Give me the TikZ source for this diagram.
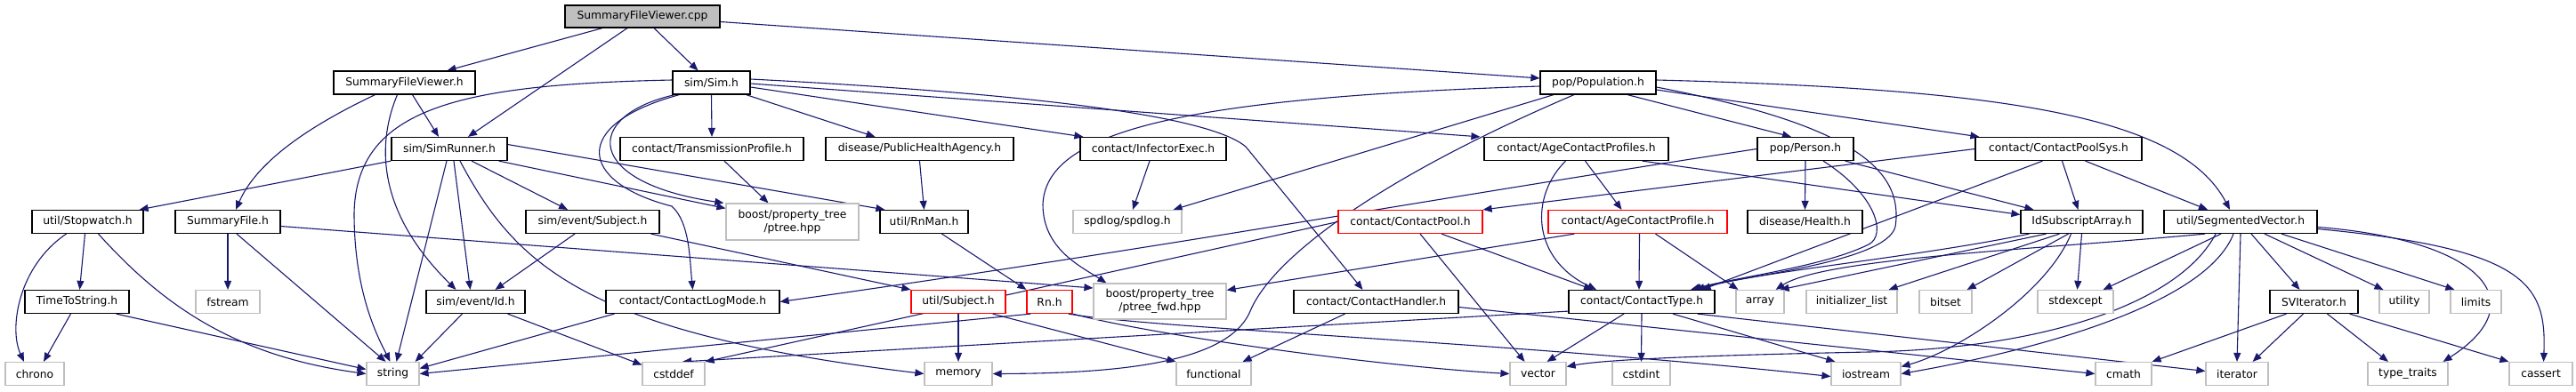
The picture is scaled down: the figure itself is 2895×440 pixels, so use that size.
\documentclass[tikz,border=0pt]{standalone}
\usepackage{fontspec}
\setmainfont{DejaVu Sans}
\usetikzlibrary{arrows.meta,calc}
\pgfdeclarelayer{edgelayer}
\pgfsetlayers{edgelayer,main}
\definecolor{edgeblue}{HTML}{191970}
\definecolor{boxgray}{HTML}{BFBFBF}
\definecolor{boxred}{HTML}{FF0000}
\tikzset{
  base/.style={fill=white, line width=1.2pt, inner sep=0pt, minimum height=26, align=center,
               font=\fontsize{12.3}{14.5}\selectfont},
  nb/.style={base, draw=black},
  ng/.style={base, draw=boxgray},
  nr/.style={base, draw=boxred},
  e/.style={draw=edgeblue, line width=1.1pt, -{Triangle[length=10pt,width=8pt]}}
}
\begin{document}
\begin{tikzpicture}[x=1pt,y=-1pt]
% ---------- nodes ----------
\node[nb,fill=boxgray,minimum width=174,minimum height=25] (cpp) at (722,18.5) {SummaryFileViewer.cpp};
\node[nb,minimum width=159] (sfvh) at (454.5,93) {SummaryFileViewer.h};
\node[nb,minimum width=87] (sim) at (799.5,93) {sim/Sim.h};
\node[nb,minimum width=130] (pop) at (1796,93) {pop/Population.h};
\node[nb,minimum width=130] (simrunner) at (505,167.5) {sim/SimRunner.h};
\node[nb,minimum width=206] (trans) at (800,167.5) {contact/TransmissionProfile.h};
\node[nb,minimum width=211] (pha) at (1033.5,167.5) {disease/PublicHealthAgency.h};
\node[nb,minimum width=164] (infector) at (1296,167.5) {contact/InfectorExec.h};
\node[nb,minimum width=207] (acps) at (1771.5,167.5) {contact/AgeContactProfiles.h};
\node[nb,minimum width=108] (person) at (2029,167.5) {pop/Person.h};
\node[nb,minimum width=187] (cps) at (2313.5,167.5) {contact/ContactPoolSys.h};
% row 4
\node[nb,minimum width=125] (stopwatch) at (98.5,249.5) {util/Stopwatch.h};
\node[nb,minimum width=118] (summaryfile) at (256,249.5) {SummaryFile.h};
\node[nb,minimum width=150] (evsubject) at (666,249.5) {sim/event/Subject.h};
\node[ng,minimum width=149,minimum height=41] (ptree) at (890.5,249.5) {boost/property\_tree\\/ptree.hpp};
\node[nb,minimum width=99] (rnman) at (1038.5,249.5) {util/RnMan.h};
\node[ng,minimum width=122] (spdlog) at (1267,249.5) {spdlog/spdlog.h};
\node[nr,minimum width=162] (contactpool) at (1585,249.5) {contact/ContactPool.h};
\node[nr,minimum width=201] (acp) at (1840.5,249.5) {contact/AgeContactProfile.h};
\node[nb,minimum width=129] (health) at (2028.5,249.5) {disease/Health.h};
\node[nb,minimum width=137] (idsub) at (2339.5,249.5) {IdSubscriptArray.h};
\node[nb,minimum width=172] (segvec) at (2518,249.5) {util/SegmentedVector.h};
% row 5
\node[nb,minimum width=117] (tts) at (86.5,339.5) {TimeToString.h};
\node[ng,minimum width=72] (fstream) at (256,339.5) {fstream};
\node[nb,minimum width=111] (id) at (534.5,339.5) {sim/event/Id.h};
\node[nb,minimum width=195] (logmode) at (778.5,339.5) {contact/ContactLogMode.h};
\node[nr,minimum width=106] (utilsubject) at (1077,339.5) {util/Subject.h};
\node[nr,minimum width=51] (rn) at (1179.5,339.5) {Rn.h};
\node[ng,minimum width=149,minimum height=40] (ptreefwd) at (1303.5,339) {boost/property\_tree\\/ptree\_fwd.hpp};
\node[nb,minimum width=185] (handler) at (1546.5,339.5) {contact/ContactHandler.h};
\node[nb,minimum width=164] (ctype) at (1845,339.5) {contact/ContactType.h};
\node[ng,minimum width=54] (array) at (1978,339.5) {array};
\node[ng,minimum width=102] (initlist) at (2081,339.5) {initializer\_list};
\node[ng,minimum width=59] (bitset) at (2186.5,339.5) {bitset};
\node[ng,minimum width=85] (stdexcept) at (2332.5,339.5) {stdexcept};
\node[nb,minimum width=99] (svit) at (2600.5,339.5) {SVIterator.h};
\node[ng,minimum width=56] (utility) at (2702,339.5) {utility};
\node[ng,minimum width=57] (limits) at (2782.5,339.5) {limits};
% row 6
\node[ng,minimum width=66] (chrono) at (39,420.5) {chrono};
\node[ng,minimum width=59] (string) at (441.5,420.5) {string};
\node[ng,minimum width=70] (cstddef) at (757,420.5) {cstddef};
\node[ng,minimum width=76] (memory) at (1077,420.5) {memory};
\node[ng,minimum width=84] (functional) at (1364,420.5) {functional};
\node[ng,minimum width=63] (vector) at (1728.5,420.5) {vector};
\node[ng,minimum width=65] (cstdint) at (1844.5,420.5) {cstdint};
\node[ng,minimum width=78] (iostream) at (2097,420.5) {iostream};
\node[ng,minimum width=63] (cmath) at (2386.5,420.5) {cmath};
\node[ng,minimum width=70] (iterator) at (2514,420.5) {iterator};
\node[ng,minimum width=90] (typetraits) at (2706,420.5) {type\_traits};
\node[ng,minimum width=71] (cassert) at (2855.5,420.5) {cassert};

% ---------- edges ----------
\begin{pgfonlayer}{edgelayer}
\fill[white] (0,0) rectangle (2895,440);
\useasboundingbox (0,0) rectangle (2895,440);
% cpp
\draw[e] ($(cpp.south)+(-45,0)$) -- ($(sfvh.north)+(48,0)$);
\draw[e] ($(cpp.south)+(-17,0)$) -- ($(simrunner.north)+(21,0)$);
\draw[e] ($(cpp.south)+(13,0)$) -- ($(sim.north)+(-15,0)$);
\draw[e] ($(cpp.east)+(0,6)$) -- ($(pop.west)+(0,-5)$);
% SummaryFileViewer.h
\draw[e] ($(sfvh.south)+(9,0)$) -- ($(simrunner.north)+(-12,0)$);
\draw[e] ($(sfvh.south)+(-33,0)$) .. controls (330,150) and (285,190) .. ($(summaryfile.north)+(9,0)$);
\draw[e] ($(sfvh.south)+(-8,0)$) .. controls (420,170) and (430,245) .. ($(id.north)+(-22,0)$);
% SimRunner
\draw[e] (simrunner.south west) -- ($(stopwatch.north east)+(-5,0)$);
\draw[e] ($(simrunner.south)+(-3,0)$) -- ($(string.north)+(4,0)$);
\draw[e] ($(simrunner.south)+(5,0)$) -- ($(id.north)+(-6,0)$);
\draw[e] ($(simrunner.south)+(25,0)$) -- ($(evsubject.north)+(-28,0)$);
\draw[e] ($(simrunner.south)+(12,0)$) .. controls (580,300) and (660,375) .. (memory.west);
\draw[e] ($(simrunner.south east)+(-10,0)$) -- ($(ptree.north west)+(0,6)$);
\draw[e] ($(simrunner.east)+(0,-5)$) -- ($(rnman.north west)+(6,0)$);
% Sim.h
\draw[e] ($(sim.west)+(0,-3)$) .. controls (520,95) and (400,120) .. (398,240) .. controls (398,330) and (425,380) .. ($(string.north)+(-3,0)$);
\draw[e] ($(sim.south west)+(3,0)$) .. controls (655,130) and (655,205) .. ($(ptree.north west)+(-2,0)$);
\draw[e] ($(sim.south west)+(8,0)$) .. controls (640,140) and (650,205) .. (755,232) .. controls (775,250) and (775,290) .. (logmode.north);
\draw[e] (sim.south) -- (trans.north);
\draw[e] ($(sim.south east)+(-5,0)$) -- ($(pha.north)+(-50,0)$);
\draw[e] ($(sim.east)+(0,5)$) -- ($(infector.north west)+(4,0)$);
\draw[e] ($(sim.east)+(0,1)$) -- ($(acps.north west)+(-4,0)$);
\draw[e] ($(sim.east)+(0,-4)$) .. controls (1250,110) and (1370,140) .. (1400,165) -- ($(handler.north)+(-15,0)$);
% Population.h
\draw[e] ($(pop.south)+(-50,0)$) -- ($(spdlog.north east)+(-10,0)$);
\draw[e] ($(pop.south)+(-27,0)$) .. controls (1550,200) and (1430,290) .. (1405,350) .. controls (1380,410) and (1250,420) .. (memory.east);
\draw[e] ($(pop.west)+(0,4)$) .. controls (1320,110) and (1175,150) .. (1172,230) .. controls (1172,280) and (1215,300) .. ($(ptreefwd.north west)+(15,0)$);
\draw[e] ($(pop.south)+(33,0)$) -- ($(person.north)+(-16,0)$);
\draw[e] ($(pop.east)+(0,8)$) -- ($(cps.north west)+(5,0)$);
\draw[e] ($(pop.east)+(0,-3)$) .. controls (2250,100) and (2450,130) .. ($(segvec.north)+(-12,0)$);
\draw[e] ($(pop.east)+(0,5)$) .. controls (2080,140) and (2140,190) .. (2130,255) .. controls (2120,295) and (1960,310) .. ($(ctype.north)+(55,0)$);
% Person.h
\draw[e] (person.south) -- (health.north);
\draw[e] ($(person.south)+(20,0)$) .. controls (2110,220) and (2120,265) .. (2100,275) .. controls (2050,300) and (1950,312) .. ($(ctype.north)+(57,0)$);
\draw[e] ($(person.south east)+(-10,0)$) -- ($(idsub.north west)+(15,0)$);
\draw[e] (person.west) .. controls (1600,225) and (1300,280) .. (logmode.east);
% AgeContactProfiles.h
\draw[e] ($(acps.south)+(10,0)$) -- ($(acp.north)+(-18,0)$);
\draw[e] ($(acps.south)+(-12,0)$) .. controls (1720,220) and (1720,290) .. ($(ctype.north)+(-51,0)$);
\draw[e] ($(acps.south east)+(-30,0)$) -- ($(idsub.west)+(0,-8)$);
% ContactPoolSys.h
\draw[e] (cps.west) -- (contactpool.north east);
\draw[e] ($(cps.south)+(-18,0)$) -- ($(ctype.north east)+(-15,0)$);
\draw[e] ($(cps.south)+(4,0)$) -- ($(idsub.north)+(-4,0)$);
\draw[e] ($(cps.south)+(30,0)$) -- ($(segvec.north)+(-37,0)$);
% Stopwatch, TimeToString, SummaryFile
\draw[e] ($(stopwatch.south)+(-24,0)$) .. controls (20,300) and (10,370) .. ($(chrono.north)+(-12,0)$);
\draw[e] ($(stopwatch.south)+(-3,0)$) -- ($(tts.north)+(3,0)$);
\draw[e] ($(stopwatch.south)+(12,0)$) .. controls (180,340) and (260,400) .. (string.west);
\draw[e] ($(tts.south)+(-7,0)$) -- ($(chrono.north)+(10,0)$);
\draw[e] ($(tts.south east)+(-15,0)$) -- ($(string.west)+(0,-5)$);
\draw[e] (summaryfile.south) -- (fstream.north);
\draw[e] ($(summaryfile.south)+(10,0)$) -- ($(string.north)+(-8,0)$);
\draw[e] ($(summaryfile.east)+(0,5)$) -- ($(ptreefwd.west)+(0,-15)$);
% sim/event/Subject.h
\draw[e] ($(evsubject.south)+(-20,0)$) -- ($(id.north)+(22,0)$);
\draw[e] ($(evsubject.south east)+(-10,0)$) -- (utilsubject.north west);
% second level
\draw[e] ($(trans.south)+(14,0)$) -- ($(ptree.north)+(-27,0)$);
\draw[e] (pha.south) -- (rnman.north);
\draw[e] ($(infector.south)+(-4,0)$) -- ($(spdlog.north)+(6,0)$);
\draw[e] ($(rnman.south)+(20,0)$) -- (rn.north west);
\draw[e] ($(id.south)+(-15,0)$) -- ($(string.north east)+(-5,0)$);
\draw[e] ($(id.south east)+(-20,0)$) -- ($(cstddef.west)+(0,-10)$);
\draw[e] ($(logmode.south west)+(10,0)$) -- ($(string.east)+(0,-6)$);
\draw[e] (utilsubject.south) -- (memory.north);
\draw[e] ($(utilsubject.south east)+(-15,0)$) -- (functional.north west);
\draw[e] ($(rn.south west)+(5,0)$) -- (string.east);
\draw[e] ($(rn.south east)+(-5,0)$) .. controls (1300,370) and (1700,385) .. ($(iostream.west)+(0,3)$);
\draw[e] (rn.south east) .. controls (1300,378) and (1550,412) .. (vector.west);
% ContactPool.h
\draw[e] ($(contactpool.south)+(35,0)$) -- ($(ctype.north)+(-55,0)$);
\draw[e] ($(contactpool.south)+(11,0)$) -- ($(vector.north)+(-15,0)$);
\draw[e] (contactpool.west) -- (cstddef.north east);
% AgeContactProfile.h
\draw[e] ($(acp.south)+(2,0)$) -- ($(ctype.north)+(-3,0)$);
\draw[e] ($(acp.south)+(20,0)$) -- ($(array.north west)+(3,0)$);
\draw[e] ($(acp.south west)+(30,0)$) -- ($(ptreefwd.north east)+(0,8)$);
% ContactHandler.h
\draw[e] ($(handler.south)+(-35,0)$) -- ($(functional.north east)+(-10,0)$);
\draw[e] ($(handler.east)+(0,6)$) -- (cmath.west);
% ContactType.h
\draw[e] ($(ctype.south)+(-20,0)$) -- ($(vector.north)+(10,0)$);
\draw[e] (ctype.south) -- (cstdint.north);
\draw[e] ($(ctype.south)+(35,0)$) -- ($(iostream.north west)+(5,0)$);
\draw[e] ($(ctype.south east)+(-20,0)$) -- ($(iterator.west)+(0,-3)$);
\draw[e] ($(ctype.south west)+(0,-3)$) -- ($(cstddef.north)+(10,0)$);
% IdSubscriptArray.h
\draw[e] ($(idsub.south west)+(10,0)$) .. controls (2150,290) and (1980,305) .. ($(ctype.north east)+(-22,0)$);
\draw[e] ($(idsub.south)+(-40,0)$) -- ($(array.north east)+(-5,0)$);
\draw[e] ($(idsub.south)+(-25,0)$) -- ($(initlist.north east)+(-10,0)$);
\draw[e] ($(idsub.south)+(-15,0)$) -- ($(bitset.north east)+(-6,0)$);
\draw[e] ($(idsub.south)+(0,0)$) -- ($(stdexcept.north)+(2,0)$);
\draw[e] ($(idsub.south)+(-12,0)$) .. controls (2300,330) and (2200,395) .. ($(iostream.east)+(0,-8)$);
% SegmentedVector.h
\draw[e] ($(segvec.south)+(-40,0)$) .. controls (2300,280) and (2050,290) .. ($(array.north east)+(-10,0)$);
\draw[e] ($(segvec.south)+(-28,0)$) .. controls (2450,340) and (2300,392) .. (2100,396) .. controls (1900,400) and (1800,405) .. ($(vector.east)+(0,-8)$);
\draw[e] ($(segvec.south)+(-22,0)$) -- ($(stdexcept.north east)+(-12,0)$);
\draw[e] ($(segvec.south)+(-8,0)$) .. controls (2480,340) and (2300,392) .. (iostream.east);
\draw[e] (segvec.south) -- (iterator.north);
\draw[e] ($(segvec.south)+(12,0)$) -- ($(svit.north)+(-16,0)$);
\draw[e] ($(segvec.south)+(27,0)$) -- ($(utility.north west)+(5,0)$);
\draw[e] ($(segvec.south)+(46,0)$) -- ($(limits.north west)+(5,0)$);
\draw[e] ($(segvec.east)+(0,6)$) .. controls (2790,270) and (2850,340) .. ($(typetraits.north east)+(-6,0)$);
\draw[e] ($(segvec.east)+(0,8)$) .. controls (2840,280) and (2862,320) .. ($(cassert.north)+(3,0)$);
% SVIterator.h
\draw[e] ($(svit.south)+(-31,0)$) -- (cmath.north east);
\draw[e] ($(svit.south)+(-12,0)$) -- ($(iterator.north east)+(-18,0)$);
\draw[e] ($(svit.south)+(15,0)$) -- ($(typetraits.north)+(-22,0)$);
\draw[e] ($(svit.south east)+(-10,0)$) -- ($(cassert.north west)+(0,0)$);
\end{pgfonlayer}
\end{tikzpicture}
\end{document}
